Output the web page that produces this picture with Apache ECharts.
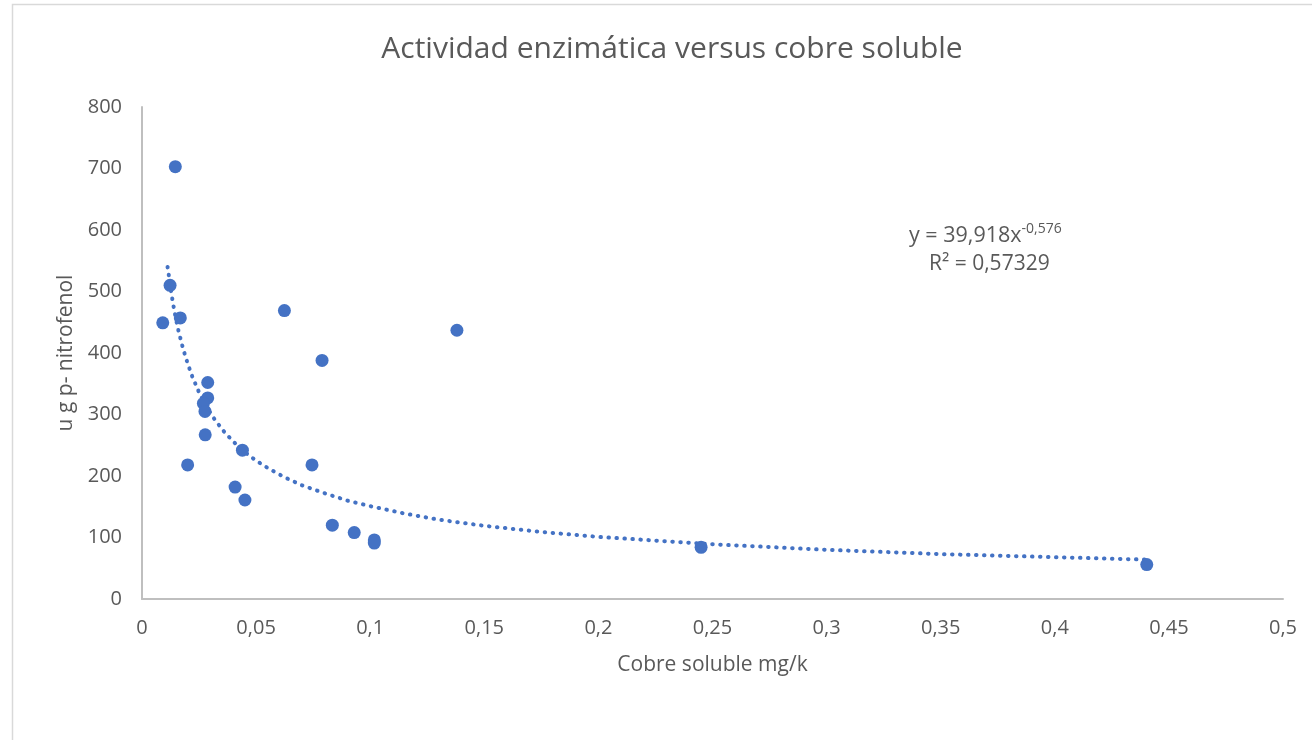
<!DOCTYPE html>
<html>
<head>
<meta charset="utf-8">
<script src="https://cdn.jsdelivr.net/npm/echarts@6/dist/echarts.min.js"></script>
<style>
  html, body { margin: 0; padding: 0; background: #fff; }
  #main { width: 1312px; height: 740px; }
</style>
</head>
<body>
<div id="main"></div>
<script>
// puntos medidos: cobre soluble (mg/k) vs actividad (u g p-nitrofenol)
const cobre = [0.0146, 0.0123, 0.0091, 0.0168, 0.0624, 0.0789, 0.138, 0.0288, 0.0288, 0.0269,
  0.0276, 0.0277, 0.0200, 0.0440, 0.0408, 0.0451, 0.0745, 0.0834, 0.0930, 0.1018, 0.1018, 0.2450, 0.4403];
const actividad = [703, 510, 449, 457, 469, 388, 437, 352, 327, 318,
  305, 267, 218, 242, 182, 161, 218, 120, 108, 96, 91, 84, 56];

// linea de tendencia potencial
const trendX = [0.0112, 0.012, 0.013, 0.014, 0.015, 0.016, 0.018, 0.02, 0.022, 0.025,
  0.028, 0.032, 0.036, 0.04, 0.045, 0.05, 0.056, 0.063, 0.07, 0.08,
  0.09, 0.1, 0.115, 0.13, 0.15, 0.175, 0.2, 0.25, 0.3, 0.35, 0.4, 0.4403];
const trendY = [540, 520, 494, 472, 453, 436, 407, 383, 362, 336,
  314, 291, 272, 256, 239, 225, 211, 197, 185, 172,
  160, 151, 139, 129, 119, 109, 101, 89, 80, 73, 68, 64];

const xTicks = { min: 0, max: 0.5, step: 0.05 };
const yTicks = { min: 0, max: 800, step: 100 };

const FONT = '"Open Sans", sans-serif';
const GRAY = '#595959';

const chart = echarts.init(document.getElementById('main'));

const comma = v => String(+v.toFixed(2)).replace('.', ',');

chart.setOption({
  animation: false,
  backgroundColor: '#fff',
  grid: { left: 142, right: 29, top: 107, bottom: 141 },
  xAxis: {
    type: 'value',
    min: xTicks.min, max: xTicks.max, interval: xTicks.step,
    name: 'Cobre soluble mg/k',
    nameLocation: 'middle',
    nameGap: 56,
    nameTextStyle: { fontFamily: FONT, fontSize: 21, color: GRAY },
    axisLine: { lineStyle: { color: '#bfbfbf', width: 2 } },
    axisTick: { show: false },
    splitLine: { show: false },
    axisLabel: { margin: 19, fontFamily: FONT, fontSize: 20, color: GRAY, formatter: comma }
  },
  yAxis: {
    type: 'value',
    min: yTicks.min, max: yTicks.max, interval: yTicks.step,
    name: 'u g p- nitrofenol',
    nameLocation: 'middle',
    nameGap: 56,
    nameTextStyle: { fontFamily: FONT, fontSize: 21, color: GRAY },
    axisLine: { show: true, lineStyle: { color: '#bfbfbf', width: 2 } },
    axisTick: { show: false },
    splitLine: { show: false },
    axisLabel: { margin: 20, fontFamily: FONT, fontSize: 20, color: GRAY }
  },
  series: [
    {
      type: 'line',
      data: trendX.map((x, i) => [x, trendY[i]]),
      showSymbol: false,
      smooth: false,
      lineStyle: { color: '#4472C4', width: 4, type: [0.5, 7.5], cap: 'round' },
      z: 1
    },
    {
      type: 'scatter',
      data: cobre.map((x, i) => [x, actividad[i]]),
      symbolSize: 13,
      itemStyle: { color: '#4472C4', opacity: 1 },
      z: 2
    }
  ],
  graphic: [
    {
      type: 'rect',
      shape: { x: 12.5, y: 4.5, width: 1400, height: 800 },
      style: { fill: 'none', stroke: '#d9d9d9', lineWidth: 1.5 },
      silent: true
    },
    {
      type: 'text',
      x: 672,
      y: 49,
      style: {
        text: 'Actividad enzimática versus cobre soluble',
        fontFamily: FONT, fontSize: 30, fill: GRAY,
        align: 'center', verticalAlign: 'middle'
      }
    },
    {
      type: 'text',
      left: 909,
      top: 222,
      style: {
        text: '{a|y = 39,918x}{s|-0,576}',
        rich: {
          a: { fontFamily: FONT, fontSize: 21.5, fill: GRAY, lineHeight: 28 },
          s: { fontFamily: FONT, fontSize: 14, fill: GRAY, lineHeight: 14, verticalAlign: 'top' }
        }
      }
    },
    {
      type: 'text',
      left: 929,
      top: 250,
      style: { text: 'R² = 0,57329', fontFamily: FONT, fontSize: 21, fill: GRAY, lineHeight: 28 }
    }
  ]
});
</script>
</body>
</html>
